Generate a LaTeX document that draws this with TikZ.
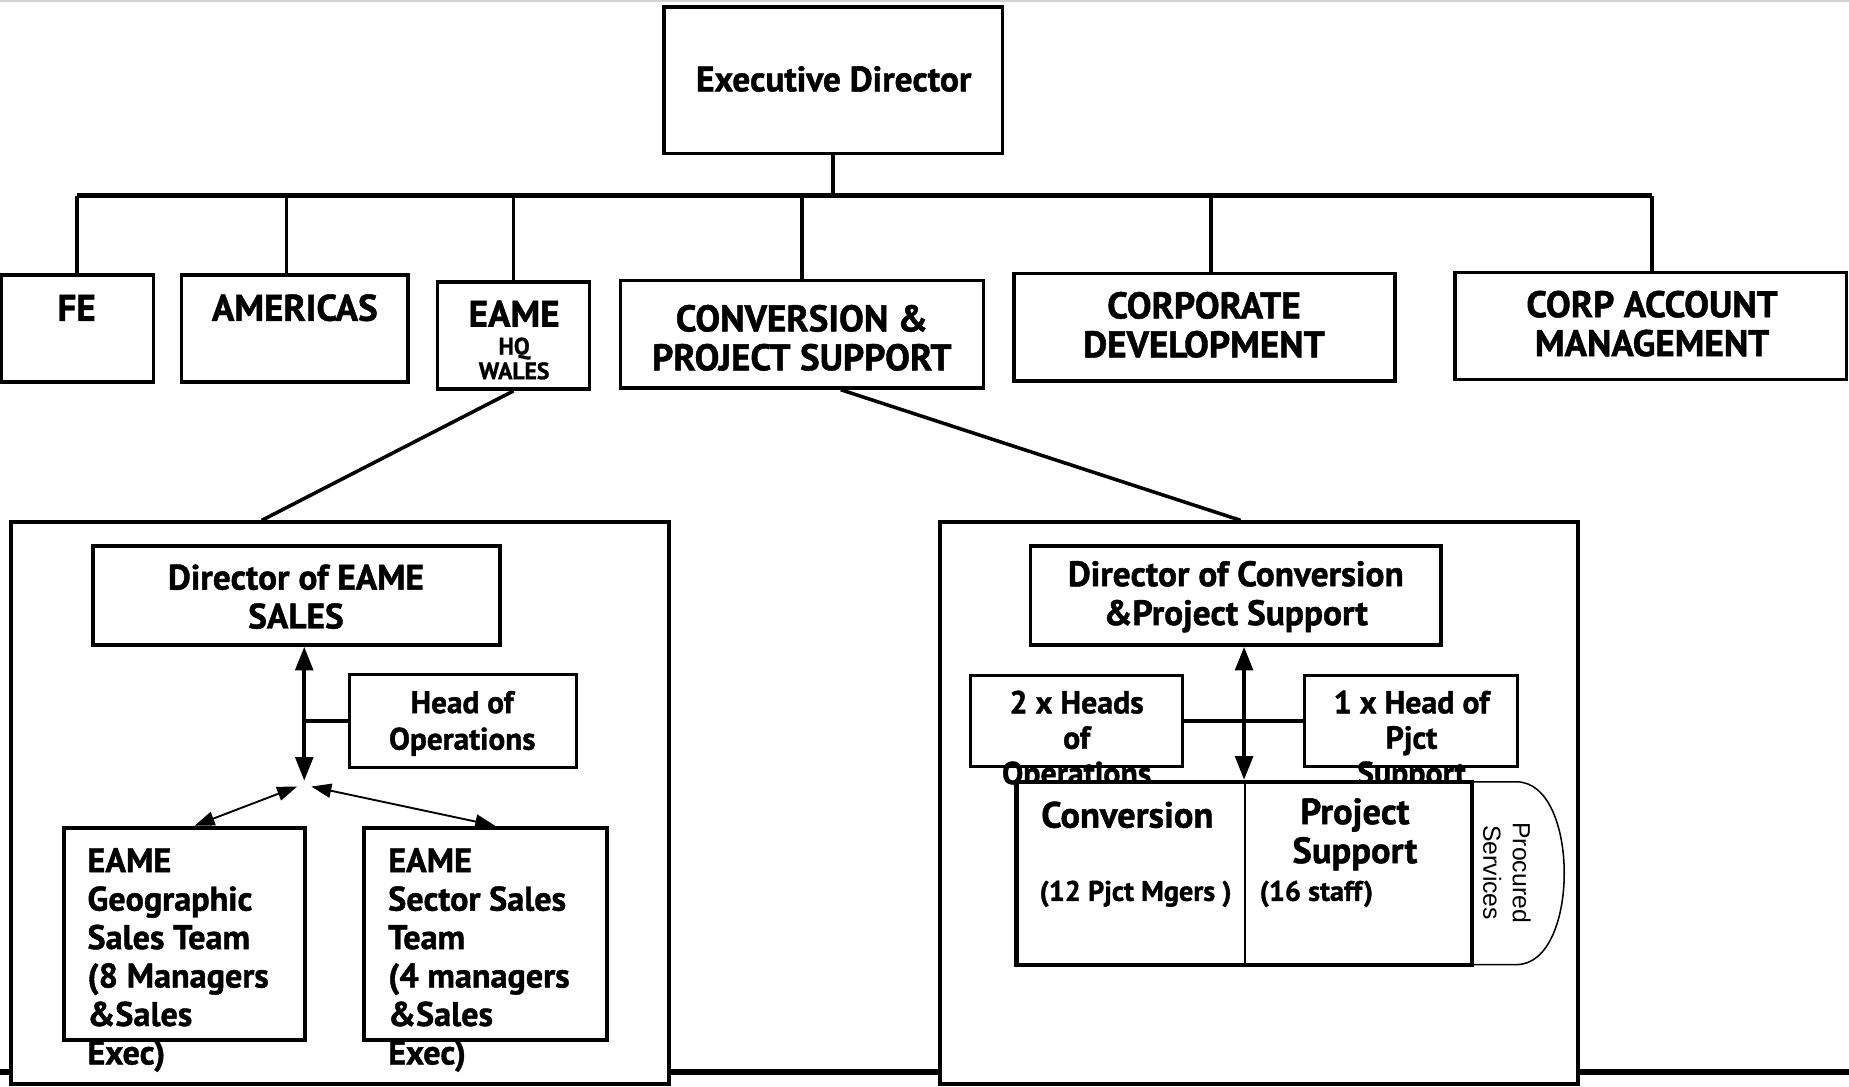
\documentclass[tikz,border=0pt]{standalone}
\usepackage{fontspec}
\setmainfont{PT Sans}[BoldFeatures={FakeBold=1.2}]
\newfontfamily\arialfont{Liberation Sans}
\usetikzlibrary{arrows.meta,calc}
\begin{document}
\begin{tikzpicture}[x=1pt,y=-1pt,
  box/.style={draw, line width=3pt, fill=white, inner sep=0pt},
  bigbox/.style={draw, line width=3.5pt, fill=white, inner sep=0pt},
  lbl/.style={font=\bfseries\fontsize{30}{33}\selectfont, align=center, inner sep=0pt},
  caps/.style={font=\bfseries\fontsize{31.5}{33}\selectfont, align=center, inner sep=0pt},
  mid/.style={font=\bfseries\fontsize{26.5}{31}\selectfont, align=center, inner sep=0pt},
  sm/.style={font=\bfseries\fontsize{24}{26}\selectfont, inner sep=0pt},
  tiny/.style={font=\bfseries\fontsize{20}{21}\selectfont, align=center, inner sep=0pt},
  lleft/.style={font=\bfseries\fontsize{29}{32.6}\selectfont, align=left, inner sep=0pt, anchor=north west},
  link/.style={line width=3pt},
  bus/.style={line width=4.5pt},
  thick arrow/.style={line width=3pt, {Triangle[length=20pt,width=15pt]}-{Triangle[length=20pt,width=15pt]}},
  thin arrow/.style={line width=1.6pt, {Triangle[length=17pt,width=12pt]}-{Triangle[length=17pt,width=12pt]}},
  thinline/.style={line width=1.3pt}
]
\useasboundingbox (0,0) rectangle (1568,921);
\draw[gray!35, line width=1.5pt] (0,1) -- (1568,1);
% bottom line behind big boxes
\coordinate (bl0) at (0,909);
\coordinate (bl1) at (1568,909);
\draw[bus] (bl0) -- (bl1);

% big boxes
\node[bigbox, minimum width=558pt, minimum height=476pt] (lbig) at (288,681) {};
\node[bigbox, minimum width=541pt, minimum height=476pt] (rbig) at (1067.5,681) {};

% top
\node[box, minimum width=287pt, minimum height=124pt] (ed) at (706.5,68) {};
\node[lbl] (edt) at (707,67) {Executive Director};

\node[box, minimum width=129pt, minimum height=91pt] (fe) at (65.5,278.5) {};
\node[box, minimum width=192pt, minimum height=91pt] (am) at (250,278.5) {};
\node[box, minimum width=129pt, minimum height=91pt] (eame) at (435.5,284.5) {};
\node[box, minimum width=308pt, minimum height=91pt] (cps) at (680,283.5) {};
\node[box, minimum width=323pt, minimum height=91pt] (cd) at (1021.5,277.5) {};
\node[box, minimum width=332pt, minimum height=91pt] (cam) at (1400,276.5) {};

\node[caps] (fet) at (65,261) {FE};
\node[caps] (amt) at (250,261) {AMERICAS};
\node[caps] (eamet) at (436,266) {EAME};
\node[tiny] (eamehq) at (436,304) {HQ\\WALES};
\node[caps] (cpst) at (680,286.5) {CONVERSION \&\\PROJECT SUPPORT};
\node[caps] (cdt) at (1021,275.5) {CORPORATE\\DEVELOPMENT};
\node[caps] (camt) at (1401,274.5) {CORP ACCOUNT\\MANAGEMENT};

% bus
\coordinate (busL) at (65,166);
\coordinate (busR) at (1401,166);
\draw[link] (ed.south) -- (ed.south |- busL);
\draw[bus] (busL) -- (busR);
\draw[link] (fe.north) -- (fe.north |- busL);
\draw[link] ([xshift=-7pt]am.north) -- ([xshift=-7pt]am.north |- busL);
\draw[link] (eame.north) -- (eame.north |- busL);
\draw[link] (cps.north) -- (cps.north |- busL);
\draw[link] ([xshift=5.5pt]cd.north) -- ([xshift=5.5pt]cd.north |- busL);
\draw[link] ([xshift=1pt]cam.north) -- ([xshift=1pt]cam.north |- busL);

% links to big boxes
\draw[link] (eame.south) -- ([xshift=-66pt]lbig.north);
\draw[link] ([xshift=33pt]cps.south) -- ([xshift=-15.5pt]rbig.north);

% left big box content
\node[box, minimum width=345pt, minimum height=84pt] (deame) at (251.5,505) {};
\node[lbl] (deamet) at (251,506) {Director of EAME\\SALES};
\node[box, line width=2.6pt, minimum width=193pt, minimum height=79pt] (hop) at (392.5,611.5) {};
\node[mid] (hopt) at (392,613.5) {Head of\\Operations};
\node[box, line width=3.5pt, minimum width=205pt, minimum height=180pt] (geo) at (156.5,792) {};
\node[box, line width=3.5pt, minimum width=206pt, minimum height=180pt] (sec) at (412,792) {};
\node[lleft] (geot) at (74,719) {EAME\\Geographic\\Sales Team\\(8 Managers\\\&Sales\\Exec)};
\node[lleft] (sect) at (329,719) {EAME\\Sector Sales\\Team\\(4 managers\\\&Sales\\Exec)};

\coordinate (jt) at (258,662);
\coordinate (jl) at (252,667);
\coordinate (jr) at (264,667);
\draw[thick arrow] ([xshift=6.5pt]deame.south) -- (jt);
\draw[link] (hop.west) -- (hop.west -| jt);
\draw[thin arrow] (jl) -- ([xshift=8.5pt]geo.north);
\draw[thin arrow] (jr) -- ([xshift=8pt]sec.north);

% right big box content
\node[box, minimum width=348pt, minimum height=84pt] (dcps) at (1048,505) {};
\node[lbl] (dcpst) at (1048,506) {Director of Conversion\\\&Project Support};
\node[box, line width=2.6pt, minimum width=180pt, minimum height=77pt] (h2) at (913,611.5) {};
\node[box, line width=2.6pt, minimum width=181pt, minimum height=77pt] (h1) at (1196.5,611.5) {};
\node[mid, font=\bfseries\fontsize{27}{30}\selectfont] (h2t) at (913,628) {2 x Heads\\of\\Operations};
\node[mid, font=\bfseries\fontsize{27}{30}\selectfont] (h1t) at (1197,628) {1 x Head of\\Pjct\\Support};
\draw[link] (h2.east) -- (h1.west);

% procured services shape
\draw[thinline] (1246,663) -- (1286,663) .. controls (1340,663) and (1340,818) .. (1286,818) -- (1246,818);
\node[box, line width=3.5pt, minimum width=386pt, minimum height=155pt] (cbox) at (1055,740.5) {};
\draw[thinline] ([xshift=1pt]cbox.north) -- ([xshift=1pt]cbox.south);
\draw[thick arrow] (cbox.north) -- (cbox.north |- dcps.south);

\node[lbl, font=\bfseries\fontsize{31}{33}\selectfont] (convt) at (956,691) {Conversion};
\node[sm] (convs) at (963,758) {(12 Pjct Mgers )};
\node[lbl, font=\bfseries\fontsize{31}{33}\selectfont] (pst) at (1149,707.5) {Project\\Support};
\node[sm, anchor=west] (pss) at (1068,758) {(16 staff)};
\node[font=\arialfont\fontsize{21}{25}\selectfont, rotate=-90, align=center, inner sep=0pt] (proc) at (1278,740) {Procured\\Services};
\end{tikzpicture}
\end{document}
